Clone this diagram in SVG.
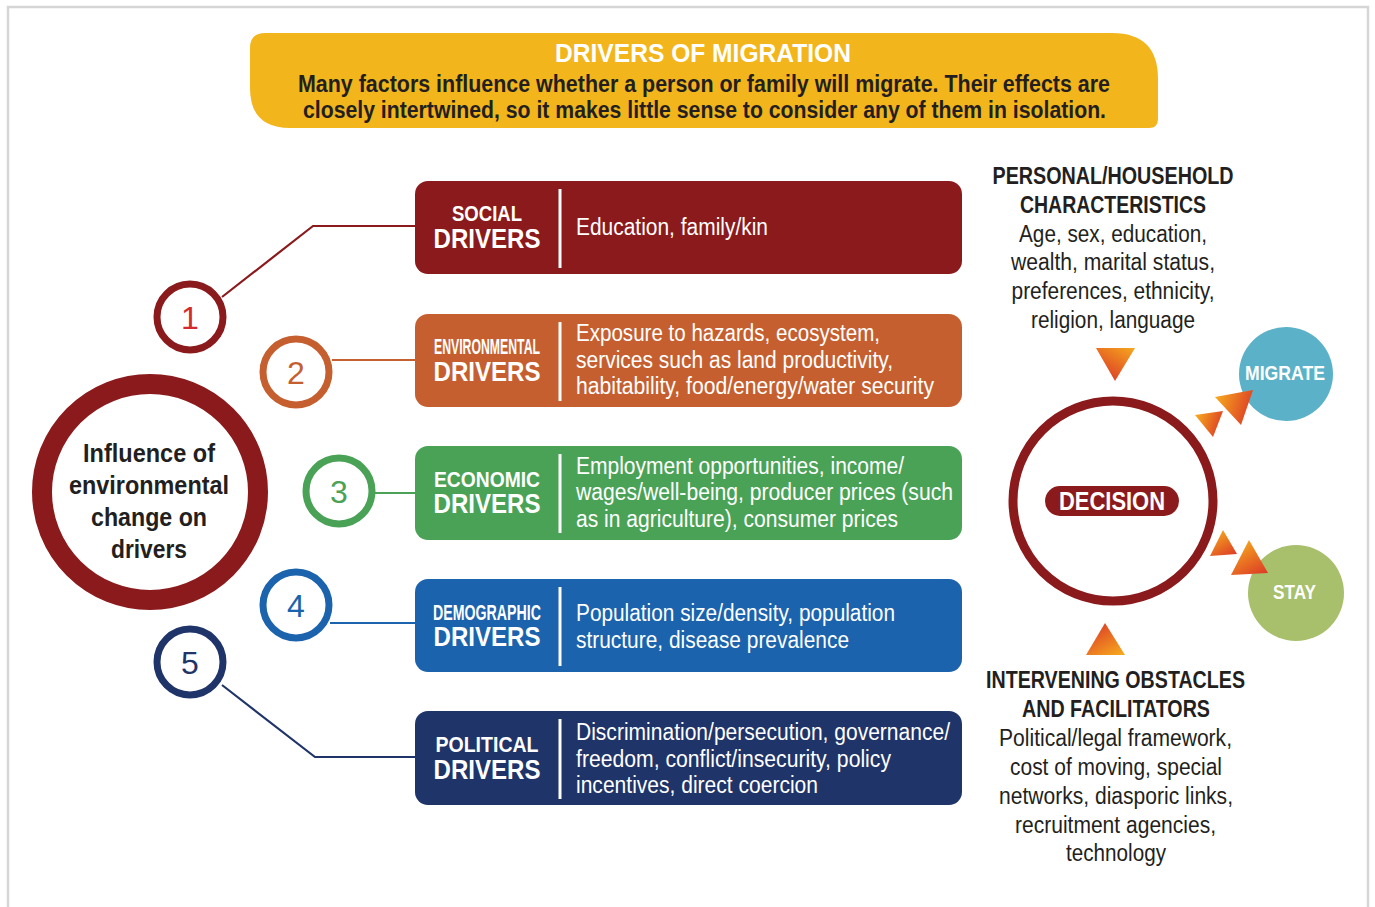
<svg xmlns="http://www.w3.org/2000/svg" width="1375" height="907" viewBox="0 0 1375 907">
  <style>
    text { font-family: "Liberation Sans", Arial, sans-serif; }
    .frame { fill: #ffffff; stroke: #d6d6d6; stroke-width: 2.5; }
    .bold { font-weight: bold; }
    .dark { fill: #231f20; }
    .white { fill: #ffffff; }
    .mid { text-anchor: middle; }
    .divider { stroke: #ffffff; stroke-width: 3; }
    .kind { font-weight: bold; font-size: 22px; fill: #ffffff; text-anchor: middle; }
    .drv { font-weight: bold; font-size: 28px; fill: #ffffff; text-anchor: middle; }
    .desc { font-size: 23px; fill: #ffffff; }
    .num { font-size: 32px; text-anchor: middle; }
    .ring { fill: #ffffff; stroke-width: 7; }
    .link { fill: none; stroke-width: 2.2; }
    .side { font-size: 23px; fill: #231f20; text-anchor: middle; }
    .sideh { font-size: 23px; font-weight: bold; fill: #231f20; text-anchor: middle; }
  </style>
  <defs>
    <linearGradient id="gDown" x1="1" y1="0" x2="0.3" y2="1">
      <stop offset="0" stop-color="#f6a81e"/>
      <stop offset="1" stop-color="#dc3a26"/>
    </linearGradient>
    <linearGradient id="gUp" x1="0.2" y1="0" x2="0.9" y2="1">
      <stop offset="0" stop-color="#dc3a26"/>
      <stop offset="1" stop-color="#f6a81e"/>
    </linearGradient>
    <linearGradient id="gRight" x1="0" y1="0.3" x2="1" y2="0.6">
      <stop offset="0" stop-color="#f6a81e"/>
      <stop offset="1" stop-color="#dc3a26"/>
    </linearGradient>
    <linearGradient id="gStay" x1="0.3" y1="0" x2="0.9" y2="1">
      <stop offset="0" stop-color="#f6a81e"/>
      <stop offset="1" stop-color="#dc3a26"/>
    </linearGradient>
  </defs>

  <!-- outer frame -->
  <rect class="frame" x="8" y="7" width="1360" height="910"/>

  <!-- header banner -->
  <g id="header">
    <path d="M265 33 H1112 Q1158 33 1158 79 V119 Q1158 128 1149 128 H290 Q250 128 250 88 V48 Q250 33 265 33 Z" fill="#f2b51c"/>
    <text class="bold white mid" x="703" y="62" font-size="26" textLength="296" lengthAdjust="spacingAndGlyphs">DRIVERS OF MIGRATION</text>
    <text class="bold dark mid" x="704" y="92" font-size="23" textLength="812" lengthAdjust="spacingAndGlyphs">Many factors influence whether a person or family will migrate. Their effects are</text>
    <text class="bold dark mid" x="704.5" y="118" font-size="23" textLength="803" lengthAdjust="spacingAndGlyphs">closely intertwined, so it makes little sense to consider any of them in isolation.</text>
  </g>

  <!-- connectors from numbered rings to driver boxes -->
  <g id="connectors">
    <polyline class="link" stroke="#8b1a1c" points="222,297 313,226 415,226"/>
    <line class="link" stroke="#c65f30" x1="332" y1="360" x2="415" y2="360"/>
    <line class="link" stroke="#4aa257" x1="375" y1="493" x2="415" y2="493"/>
    <line class="link" stroke="#1b63ad" x1="330" y1="623" x2="415" y2="623"/>
    <polyline class="link" stroke="#1f3469" points="222,685 315,757 415,757"/>
  </g>

  <!-- central influence ring -->
  <g id="influence">
    <circle cx="150" cy="492" r="108" fill="#ffffff" stroke="#8b1a1c" stroke-width="20"/>
    <text class="bold dark mid" x="149" y="462" font-size="26" textLength="132" lengthAdjust="spacingAndGlyphs">Influence of</text>
    <text class="bold dark mid" x="149" y="494" font-size="26" textLength="160" lengthAdjust="spacingAndGlyphs">environmental</text>
    <text class="bold dark mid" x="149" y="526" font-size="26" textLength="116" lengthAdjust="spacingAndGlyphs">change on</text>
    <text class="bold dark mid" x="149" y="558" font-size="26" textLength="76" lengthAdjust="spacingAndGlyphs">drivers</text>
  </g>

  <!-- numbered rings -->
  <g id="n1"><circle class="ring" cx="190" cy="317" r="33" stroke="#8b1a1c"/><text class="num" x="190" y="329" fill="#d42a2d">1</text></g>
  <g id="n2"><circle class="ring" cx="296" cy="372" r="33" stroke="#c65f30"/><text class="num" x="296" y="384" fill="#c65f30">2</text></g>
  <g id="n3"><circle class="ring" cx="339" cy="491" r="33" stroke="#4aa257"/><text class="num" x="339" y="503" fill="#4aa257">3</text></g>
  <g id="n4"><circle class="ring" cx="296" cy="605" r="33" stroke="#1b63ad"/><text class="num" x="296" y="617" fill="#1b63ad">4</text></g>
  <g id="n5"><circle class="ring" cx="190" cy="662" r="33" stroke="#1f3469"/><text class="num" x="190" y="674" fill="#1f3469">5</text></g>

  <!-- driver boxes -->
  <g id="social">
    <rect x="415" y="181" width="547" height="93" rx="13" fill="#8b1a1c"/>
    <line class="divider" x1="560" y1="189" x2="560" y2="268"/>
    <text class="kind" x="487" y="221" textLength="70" lengthAdjust="spacingAndGlyphs">SOCIAL</text>
    <text class="drv" x="487" y="248" textLength="107" lengthAdjust="spacingAndGlyphs">DRIVERS</text>
    <text class="desc" x="576" y="235" textLength="192" lengthAdjust="spacingAndGlyphs">Education, family/kin</text>
  </g>
  <g id="environmental">
    <rect x="415" y="314" width="547" height="93" rx="13" fill="#c65f30"/>
    <line class="divider" x1="560" y1="322" x2="560" y2="401"/>
    <text class="kind" x="487" y="354" font-size="23" textLength="106" lengthAdjust="spacingAndGlyphs">ENVIRONMENTAL</text>
    <text class="drv" x="487" y="381" textLength="107" lengthAdjust="spacingAndGlyphs">DRIVERS</text>
    <text class="desc" x="576" y="341" textLength="304" lengthAdjust="spacingAndGlyphs">Exposure to hazards, ecosystem,</text>
    <text class="desc" x="576" y="368" textLength="317" lengthAdjust="spacingAndGlyphs">services such as land productivity,</text>
    <text class="desc" x="576" y="394" textLength="358" lengthAdjust="spacingAndGlyphs">habitability, food/energy/water security</text>
  </g>
  <g id="economic">
    <rect x="415" y="446" width="547" height="94" rx="13" fill="#4aa257"/>
    <line class="divider" x1="560" y1="454" x2="560" y2="533"/>
    <text class="kind" x="487" y="487" textLength="106" lengthAdjust="spacingAndGlyphs">ECONOMIC</text>
    <text class="drv" x="487" y="513" textLength="107" lengthAdjust="spacingAndGlyphs">DRIVERS</text>
    <text class="desc" x="576" y="474" textLength="328" lengthAdjust="spacingAndGlyphs">Employment opportunities, income/</text>
    <text class="desc" x="576" y="500" textLength="377" lengthAdjust="spacingAndGlyphs">wages/well-being, producer prices (such</text>
    <text class="desc" x="576" y="527" textLength="322" lengthAdjust="spacingAndGlyphs">as in agriculture), consumer prices</text>
  </g>
  <g id="demographic">
    <rect x="415" y="579" width="547" height="93" rx="13" fill="#1b63ad"/>
    <line class="divider" x1="560" y1="587" x2="560" y2="666"/>
    <text class="kind" x="487" y="620" font-size="23" textLength="108" lengthAdjust="spacingAndGlyphs">DEMOGRAPHIC</text>
    <text class="drv" x="487" y="646" textLength="107" lengthAdjust="spacingAndGlyphs">DRIVERS</text>
    <text class="desc" x="576" y="621" textLength="319" lengthAdjust="spacingAndGlyphs">Population size/density, population</text>
    <text class="desc" x="576" y="648" textLength="273" lengthAdjust="spacingAndGlyphs">structure, disease prevalence</text>
  </g>
  <g id="political">
    <rect x="415" y="711" width="547" height="94" rx="13" fill="#1f3469"/>
    <line class="divider" x1="560" y1="719" x2="560" y2="799"/>
    <text class="kind" x="487" y="752" textLength="103" lengthAdjust="spacingAndGlyphs">POLITICAL</text>
    <text class="drv" x="487" y="779" textLength="107" lengthAdjust="spacingAndGlyphs">DRIVERS</text>
    <text class="desc" x="576" y="740" textLength="374" lengthAdjust="spacingAndGlyphs">Discrimination/persecution, governance/</text>
    <text class="desc" x="576" y="767" textLength="315" lengthAdjust="spacingAndGlyphs">freedom, conflict/insecurity, policy</text>
    <text class="desc" x="576" y="793" textLength="242" lengthAdjust="spacingAndGlyphs">incentives, direct coercion</text>
  </g>

  <!-- personal / household characteristics -->
  <g id="personal">
    <text class="sideh" x="1113" y="184" textLength="241" lengthAdjust="spacingAndGlyphs">PERSONAL/HOUSEHOLD</text>
    <text class="sideh" x="1113" y="213" textLength="186" lengthAdjust="spacingAndGlyphs">CHARACTERISTICS</text>
    <text class="side" x="1113" y="242" textLength="188" lengthAdjust="spacingAndGlyphs">Age, sex, education,</text>
    <text class="side" x="1113" y="270" textLength="204" lengthAdjust="spacingAndGlyphs">wealth, marital status,</text>
    <text class="side" x="1113" y="299" textLength="203" lengthAdjust="spacingAndGlyphs">preferences, ethnicity,</text>
    <text class="side" x="1113" y="328" textLength="164" lengthAdjust="spacingAndGlyphs">religion, language</text>
    <polygon points="1096,348 1135,348 1115,381" fill="url(#gDown)"/>
  </g>

  <!-- decision ring -->
  <g id="decision">
    <circle cx="1113" cy="501" r="100" fill="#ffffff" stroke="#8b1a1c" stroke-width="9"/>
    <rect x="1045" y="486" width="134" height="30" rx="15" fill="#8b1a1c"/>
    <text class="bold white mid" x="1112" y="510" font-size="26" textLength="106" lengthAdjust="spacingAndGlyphs">DECISION</text>
  </g>

  <!-- outcomes -->
  <g id="migrate">
    <circle cx="1286" cy="374" r="47" fill="#5bb1c7"/>
    <text class="bold white mid" x="1285" y="380" font-size="21" textLength="80" lengthAdjust="spacingAndGlyphs">MIGRATE</text>
  </g>
  <g id="stay">
    <circle cx="1296" cy="593" r="48" fill="#a8bf6b"/>
    <text class="bold white mid" x="1294.5" y="599" font-size="21" textLength="43" lengthAdjust="spacingAndGlyphs">STAY</text>
  </g>

  <!-- flow arrows toward outcomes -->
  <g id="arrows">
    <polygon points="1195,415 1223,411 1213,437" fill="url(#gRight)"/>
    <polygon points="1215,397 1253,390 1241,425" fill="url(#gRight)"/>
    <polygon points="1223,530 1210,556 1237,554" fill="url(#gStay)"/>
    <polygon points="1249,540 1231,575 1268,573" fill="url(#gStay)"/>
  </g>

  <!-- intervening obstacles and facilitators -->
  <g id="obstacles">
    <polygon points="1105,623 1086,655 1125,655" fill="url(#gUp)"/>
    <text class="sideh" x="1115.5" y="688" textLength="259" lengthAdjust="spacingAndGlyphs">INTERVENING OBSTACLES</text>
    <text class="sideh" x="1116" y="717" textLength="188" lengthAdjust="spacingAndGlyphs">AND FACILITATORS</text>
    <text class="side" x="1115.5" y="746" textLength="233" lengthAdjust="spacingAndGlyphs">Political/legal framework,</text>
    <text class="side" x="1116" y="775" textLength="212" lengthAdjust="spacingAndGlyphs">cost of moving, special</text>
    <text class="side" x="1116" y="804" textLength="234" lengthAdjust="spacingAndGlyphs">networks, diasporic links,</text>
    <text class="side" x="1115.5" y="833" textLength="201" lengthAdjust="spacingAndGlyphs">recruitment agencies,</text>
    <text class="side" x="1116" y="861" textLength="100" lengthAdjust="spacingAndGlyphs">technology</text>
  </g>
</svg>
